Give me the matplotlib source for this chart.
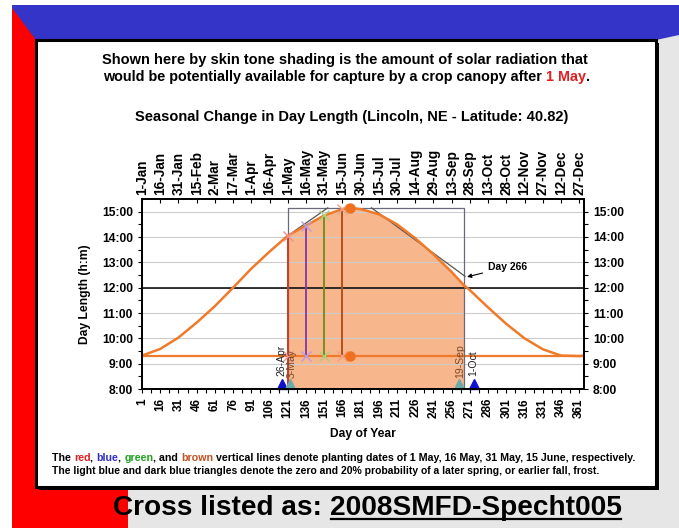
import numpy as np
import matplotlib
matplotlib.use('Agg')
import matplotlib.pyplot as plt
from matplotlib.patches import Rectangle, Polygon

plt.rcParams['font.family'] = ['Liberation Sans', 'DejaVu Sans']

# Day length (day of year -> hours)
days = [1, 16, 31, 46, 61, 76, 91, 106, 121, 136, 151, 166, 172, 181, 196, 211,
        226, 241, 256, 266, 271, 286, 301, 316, 331, 346, 361, 365]
day_len = [9.32, 9.58, 10.03, 10.62, 11.27, 12.0, 12.75, 13.42, 14.05, 14.45, 14.85,
           15.1, 15.15, 15.1, 14.9, 14.5, 13.95, 13.32, 12.62, 12.1, 11.9, 11.22,
           10.57, 10.0, 9.57, 9.32, 9.3, 9.32]
min_len = 9.3

# planting dates (1 May, 16 May, 31 May, 15 Jun)
plant_days = [121, 136, 151, 166]
plant_tops = [14.05, 14.45, 14.85, 15.1]
plant_colors = ['#c8402a', '#8a3fa8', '#7a8c22', '#b4501c']
plant_x_colors = ['#f09090', '#b89ce0', '#a8d080', '#f0a080']

solstice_day = 172
solstice_len = 15.15

# frost dates
dark_frost_days = [116, 274]
dark_frost_labels = ['26-Apr', '1-Oct']
light_frost_days = [123, 262]
light_frost_labels = ['3-May', '19-Sep']

season_start, season_end = 121, 266
box_top = 15.15
chord1_x, chord1_y = [121, 154], [14.05, 15.15]
chord2_x, chord2_y = [190, 267], [15.15, 12.45]

tick_days = list(range(1, 362, 15))
date_labels = ['1-Jan', '16-Jan', '31-Jan', '15-Feb', '2-Mar', '17-Mar', '1-Apr',
               '16-Apr', '1-May', '16-May', '31-May', '15-Jun', '30-Jun', '15-Jul',
               '30-Jul', '14-Aug', '29-Aug', '13-Sep', '28-Sep', '13-Oct', '28-Oct',
               '12-Nov', '27-Nov', '12-Dec', '27-Dec']
hour_ticks = [8, 9, 10, 11, 12, 13, 14, 15]
hour_labels = ['%d:00' % h for h in hour_ticks]

W, H = 679, 528
fig = plt.figure(figsize=(W / 100, H / 100), dpi=100, facecolor='white')

# slide background, drawn in pixel coordinates
bg = fig.add_axes([0, 0, 1, 1])
bg.set_xlim(0, W)
bg.set_ylim(H, 0)
bg.axis('off')
bg.add_patch(Rectangle((12, 5), 24, H - 5, color='#ff0000', lw=0))
bg.add_patch(Rectangle((656, 35), W - 656, H - 35, color='#e6e6e6', lw=0))
bg.add_patch(Polygon([(12, 5), (W, 5), (W, 35), (656, 40), (36, 40), (12, 8)],
                     closed=True, color='#3434c8', lw=0))
bg.add_patch(Rectangle((128, 487), W - 128, H - 487, color='#e6e6e6', lw=0))
bg.add_patch(Rectangle((12, 487), 116, H - 487, color='#ff0000', lw=0))
bg.add_patch(Rectangle((39, 43), 620, 447, color='black', lw=0))
bg.add_patch(Rectangle((36, 40), 620, 447, facecolor='white', edgecolor='black', lw=2.2))

# header text
bold = dict(fontweight='bold')
bg.text(345, 60, 'Shown here by skin tone shading is the amount of solar radiation that',
        ha='center', va='center', fontsize=10.5, **bold)
t = bg.text(103, 81, 'would be potentially available for capture by a crop canopy after ',
            ha='left', va='baseline', fontsize=10.4, **bold)
t = bg.annotate('1 May', xycoords=t, xy=(1, 0), va='bottom', fontsize=10.4,
                color='#e02020', **bold)
bg.annotate('.', xycoords=t, xy=(1, 0), va='bottom', fontsize=10.4, **bold)
bg.text(352, 117, 'Seasonal Change in Day Length (Lincoln, NE - Latitude: 40.82)',
        ha='center', va='center', fontsize=10.5, **bold)

# footnote with coloured words
pieces = [('The ', 'black'), ('red', '#e02020'), (', ', 'black'), ('blue', '#3030c0'),
          (', ', 'black'), ('green', '#20a020'), (', and ', 'black'), ('brown', '#c05020'),
          (' vertical lines denote planting dates of 1 May, 16 May, 31 May, 15 June, respectively.',
           'black')]
t = bg.text(52, 461, pieces[0][0], ha='left', va='baseline', fontsize=7.7,
            color=pieces[0][1], **bold)
for s, c in pieces[1:]:
    t = bg.annotate(s, xycoords=t, xy=(1, 0), va='bottom', fontsize=7.7, color=c, **bold)
bg.text(52, 474, 'The light blue and dark blue triangles denote the zero and 20% probability '
        'of a later spring, or earlier fall, frost.', ha='left', va='baseline',
        fontsize=7.5, **bold)

# cross-listing line
t1 = bg.text(113, 515, 'Cross listed as: ', ha='left', va='baseline', fontsize=20.2, **bold)
t2 = bg.annotate('2008SMFD-Specht005', xycoords=t1, xy=(1, 0), va='bottom',
                 fontsize=20.2, **bold)

# main chart
ax = fig.add_axes([142 / W, 1 - 389 / H, 442 / W, 190 / H])
ax.set_xlim(1, 365)
ax.set_ylim(8, 15.5)

for h in hour_ticks[1:]:
    ax.axhline(h, color='#cccccc', lw=0.8, zorder=1.5)

s0, s1 = days.index(season_start), days.index(season_end)
ax.fill_between(days[s0:s1 + 1], 8, day_len[s0:s1 + 1], color='#f8b68c', lw=0, zorder=1)

ax.axhline(12, color='black', lw=1.1, zorder=2)
ax.axhline(min_len, color='#ee7a2a', lw=1.6, zorder=2)

# outline box and straight-line approximations
ax.plot([season_start, season_start, season_end, season_end], [8, box_top, box_top, 8],
        color='#6a6a7a', lw=0.9, zorder=3)
ax.plot(chord1_x, chord1_y, color='#555555', lw=0.9, zorder=3)
ax.plot(chord2_x, chord2_y, color='#555555', lw=0.9, zorder=3)

ax.plot(days, day_len, color='#ee7a2a', lw=1.8, zorder=4)

# planting date lines
ax.plot([plant_days[0], plant_days[0]], [8, plant_tops[0]], color=plant_colors[0], lw=1.4, zorder=5)
for d, top, c, xc in zip(plant_days, plant_tops, plant_colors, plant_x_colors):
    ax.plot([d, d], [min_len, top], color=c, lw=1.4, zorder=5)
    ax.plot([d, d], [min_len, top], ls='none', marker='x', ms=7, mew=1.0, color=xc, zorder=6)
ax.plot([solstice_day, solstice_day], [min_len, solstice_len], ls='none', marker='o',
        ms=6.5, color='#ee7020', zorder=6)

# frost triangles and labels
ax.plot(dark_frost_days, [8.2] * 2, ls='none', marker='^', ms=7, color='#1010d0',
        zorder=6, clip_on=False)
ax.plot(light_frost_days, [8.2] * 2, ls='none', marker='^', ms=7, color='#6aaaaa',
        zorder=6, clip_on=False)
for d, lab in zip(dark_frost_days, dark_frost_labels):
    ax.text(d, 8.5, lab, rotation=90, ha='center', va='bottom', fontsize=7.5,
            color='#202020', zorder=7)
for d, lab in zip(light_frost_days, light_frost_labels):
    ax.text(d + 1, 8.45, lab, rotation=90, ha='center', va='bottom', fontsize=7.5,
            color='#7a4a2a', zorder=7)

ax.annotate('Day 266', xy=(266.5, 12.4), xytext=(286, 12.82), fontsize=7.5,
            fontweight='bold', va='center', ha='left',
            arrowprops=dict(arrowstyle='-|>', color='black', lw=0.8, mutation_scale=6),
            zorder=8)

# axes, ticks, labels
ax.set_xticks(tick_days)
ax.set_xticklabels([str(d) for d in tick_days], rotation=90, fontsize=8.5, fontweight='bold')
ax.set_xticks([d + 7.5 for d in tick_days[:-1]], minor=True)
ax.set_yticks(hour_ticks)
ax.set_yticklabels(hour_labels, fontsize=8.7, fontweight='bold')
ax.set_yticks([h + 0.5 for h in hour_ticks[:-1]], minor=True)
ax.tick_params(which='both', direction='out', length=3, width=0.8)
ax.set_xlabel('Day of Year', fontsize=8.7, fontweight='bold', labelpad=7)
ax.set_ylabel('Day Length (h:m)', fontsize=8.7, fontweight='bold', labelpad=8)

axr = ax.twinx()
axr.set_ylim(ax.get_ylim())
axr.set_yticks(hour_ticks)
axr.set_yticklabels(hour_labels, fontsize=8.7, fontweight='bold')
axr.set_yticks([h + 0.5 for h in hour_ticks[:-1]], minor=True)
axr.tick_params(which='both', direction='out', length=3, width=0.8)

axt = ax.twiny()
axt.set_xlim(ax.get_xlim())
axt.set_xticks(tick_days)
axt.set_xticklabels(date_labels, rotation=90, fontsize=9.8, fontweight='bold')
axt.tick_params(direction='in', length=3, width=0.8, pad=3)

for a in (ax, axr, axt):
    for sp in a.spines.values():
        sp.set_linewidth(1.2)

# underline for the cross-listing id
fig.canvas.draw()
bb = t2.get_window_extent().transformed(bg.transData.inverted())
bg.plot([bb.x0 + 1, bb.x1 - 1], [519, 519], color='black', lw=1.6)

fig.savefig('out.png', dpi=100, facecolor='white')
